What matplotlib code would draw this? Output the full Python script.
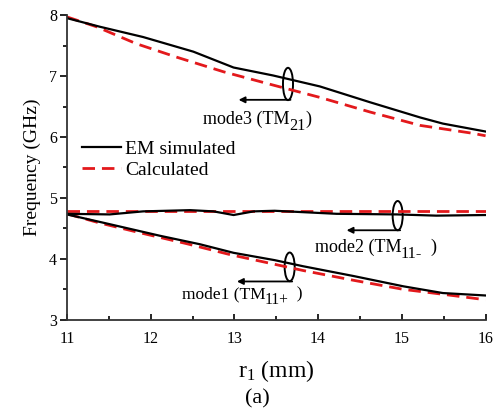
import matplotlib
matplotlib.use('Agg')
import matplotlib.pyplot as plt
from matplotlib.patches import Ellipse
from matplotlib.ticker import MultipleLocator

plt.rcParams['font.family'] = ['Liberation Serif', 'DejaVu Serif']
plt.rcParams['mathtext.fontset'] = 'custom'
plt.rcParams['mathtext.rm'] = 'Liberation Serif'
plt.rcParams['mathtext.it'] = 'Liberation Serif:italic'

# EM simulated curves
r_m3_sim = [11.0, 11.39, 11.91, 12.51, 12.99, 13.46, 14.02, 14.62, 15.22, 15.49, 16.0]
f_m3_sim = [7.95, 7.81, 7.64, 7.40, 7.14, 7.01, 6.83, 6.57, 6.32, 6.22, 6.09]
r_m2_sim = [11.0, 11.51, 11.91, 12.47, 12.75, 12.99, 13.23, 13.48, 14.22, 14.94, 15.41, 16.0]
f_m2_sim = [4.74, 4.73, 4.78, 4.80, 4.78, 4.72, 4.78, 4.79, 4.74, 4.73, 4.71, 4.72]
r_m1_sim = [11.0, 11.51, 12.11, 12.59, 12.99, 13.48, 13.82, 14.42, 15.02, 15.49, 16.0]
f_m1_sim = [4.73, 4.57, 4.38, 4.24, 4.10, 3.98, 3.88, 3.72, 3.55, 3.44, 3.40]

# calculated curves
r_m3_calc = [11.0, 11.35, 11.83, 12.31, 12.87, 13.44, 14.02, 14.62, 15.22, 15.85, 16.0]
f_m3_calc = [7.97, 7.81, 7.53, 7.31, 7.07, 6.86, 6.65, 6.41, 6.19, 6.06, 6.02]
r_m2_calc = [11.0, 16.0]
f_m2_calc = [4.79, 4.79]
r_m1_calc = [11.0, 11.39, 11.87, 12.43, 12.95, 13.42, 13.82, 14.42, 15.02, 15.49, 16.0]
f_m1_calc = [4.74, 4.59, 4.43, 4.25, 4.07, 3.93, 3.81, 3.65, 3.50, 3.42, 3.33]

red = '#e3191c'

fig = plt.figure(figsize=(4.96, 4.08), dpi=100)
ax = fig.add_axes([0.135, 0.216, 0.844, 0.747])

ax.plot(r_m3_calc, f_m3_calc, color=red, lw=2, dashes=(4.5, 2.5), label='Calculated')
ax.plot(r_m2_calc, f_m2_calc, color=red, lw=2, dashes=(4.5, 2.5))
ax.plot(r_m1_calc, f_m1_calc, color=red, lw=2, dashes=(4.5, 2.5))
ax.plot(r_m3_sim, f_m3_sim, color='black', lw=1.6, label='EM simulated')
ax.plot(r_m2_sim, f_m2_sim, color='black', lw=1.6)
ax.plot(r_m1_sim, f_m1_sim, color='black', lw=1.6)

ax.set_xlim(11, 16)
ax.set_ylim(3, 8)
ax.xaxis.set_major_locator(MultipleLocator(1))
ax.xaxis.set_minor_locator(MultipleLocator(0.5))
ax.yaxis.set_major_locator(MultipleLocator(1))
ax.yaxis.set_minor_locator(MultipleLocator(0.5))
ax.spines['top'].set_visible(False)
ax.spines['right'].set_visible(False)
for s in ['left', 'bottom']:
    ax.spines[s].set_linewidth(1.3)
    ax.spines[s].set_color('#333333')
ax.tick_params(axis='x', which='major', direction='in', length=4, width=1.2, labelsize=11.5, pad=8)
ax.tick_params(axis='x', which='minor', direction='in', length=3, width=1.2)
ax.tick_params(axis='y', which='major', direction='out', length=5, width=1.2, labelsize=11.5, pad=2)
ax.tick_params(axis='y', which='minor', direction='out', length=3, width=1.2)

ax.set_ylabel('Frequency (GHz)', fontsize=14, labelpad=6)
ax.set_xlabel(r'r$_{1}$ (mm)', fontsize=17, labelpad=8)
fig.text(0.518, 0.0, '(a)', fontsize=16, ha='center', va='bottom')

handles, labels = ax.get_legend_handles_labels()
ax.legend(handles[::-1], labels[::-1], loc='upper left', bbox_to_anchor=(0.035, 0.59),
          frameon=False, fontsize=14, handlelength=2.0, handletextpad=0.25,
          labelspacing=0.2, borderpad=0, borderaxespad=0)

renderer = fig.canvas.get_renderer()


def label_with_sub(x, y, head, sub, tail, fs):
    # text with a large, lowered subscript, placed piece by piece
    t = ax.text(x, y, head, fontsize=fs, ha='left', va='baseline')
    x_disp, y_disp = ax.transData.transform((x, y))
    x_disp = t.get_window_extent(renderer).x1
    sub_fs = fs * 0.9
    y_sub = y_disp - fs * 0.35 * fig.dpi / 72
    sx, sy = ax.transData.inverted().transform((x_disp - 1, y_sub))
    t2 = ax.text(sx, sy, sub, fontsize=sub_fs, ha='left', va='baseline')
    x_disp = t2.get_window_extent(renderer).x1
    ex, ey = ax.transData.inverted().transform((x_disp, y_disp))
    ax.text(ex, ey, tail, fontsize=fs, ha='left', va='baseline')


# mode markers: ellipse + leftward arrow + label
modes = [
    (13.64, 6.87, 0.53, 6.61, 13.05, 12.63, 6.22, 'mode3 (TM', '21', ')', 13),
    (14.95, 4.71, 0.48, 4.47, 14.34, 13.96, 4.12, 'mode2 (TM', '11-', '  )', 13),
    (13.66, 3.87, 0.47, 3.63, 13.03, 12.37, 3.36, 'mode1 (TM', '11+', '  )', 12.5),
]
for cx, cy, h, ly, ax_end, tx, ty, head, sub, tail, fs in modes:
    ax.add_patch(Ellipse((cx, cy), 0.12, h, fill=False, color='black', lw=1.4))
    ax.annotate('', xy=(ax_end, ly), xytext=(cx + 0.03, ly),
                arrowprops=dict(arrowstyle='-|>', color='black', lw=1.3,
                                mutation_scale=9, shrinkA=0, shrinkB=0))
    label_with_sub(tx, ty, head, sub, tail, fs)

fig.savefig('out.png', dpi=100)
